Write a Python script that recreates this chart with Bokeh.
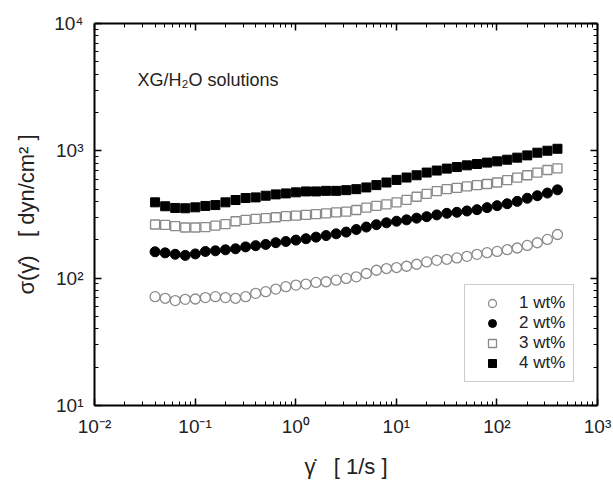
from bokeh.plotting import figure
from bokeh.models import Range1d, FixedTicker, LogAxis, Legend, LegendItem, Label
from bokeh.embed import file_html
from bokeh.resources import INLINE

# shear rate [1/s]
shear_rate = [0.0400, 0.0504, 0.0634, 0.0798, 0.1005, 0.1265, 0.1592, 0.2004, 0.2523, 0.3177,
              0.4000, 0.5036, 0.6340, 0.7981, 1.005, 1.265, 1.592, 2.004, 2.523, 3.177,
              4.000, 5.036, 6.340, 7.981, 10.05, 12.65, 15.92, 20.04, 25.23, 31.77,
              40.00, 50.36, 63.40, 79.81, 100.5, 126.5, 159.2, 200.4, 252.3, 317.7, 400.0]

# shear stress [dyn/cm^2]
wt1 = [71.6, 69.5, 66.7, 68.2, 68.6, 70.4, 71.6, 70.4, 69.5, 71.6,
       76.0, 78.3, 82.1, 85.7, 88.2, 89.8, 92.6, 93.7, 96.5, 99.5,
       102.5, 108.8, 115.4, 119.0, 121.2, 124.0, 128.6, 134.2, 138.1, 140.7,
       144.2, 148.4, 153.8, 158.6, 162.3, 167.3, 172.6, 180.8, 189.8, 201.4, 220.3]
wt2 = [161, 158, 154, 151, 155, 162, 164, 167, 170, 176,
       180, 184, 190, 194, 199, 204, 210, 216, 223, 230,
       241, 252, 263, 272, 280, 287, 296, 304, 314, 323,
       329, 337, 345, 358, 371, 384, 401, 424, 444, 466, 494]
wt3 = [264, 262, 256, 250, 250, 252, 259, 266, 280, 287,
       292, 296, 301, 307, 310, 314, 318, 323, 329, 333,
       343, 358, 369, 380, 394, 412, 436, 460, 482, 500,
       512, 525, 538, 549, 564, 588, 617, 643, 675, 707, 729]
wt4 = [394, 367, 356, 354, 360, 369, 375, 394, 411, 426,
       431, 444, 455, 463, 472, 480, 480, 485, 485, 491,
       500, 516, 538, 564, 591, 617, 643, 675, 700, 725,
       746, 769, 788, 808, 827, 852, 884, 921, 967, 1002, 1038]

series_labels = ["1 wt%", "2 wt%", "3 wt%", "4 wt%"]

x_decades = [0.01, 0.1, 1, 10, 100, 1000]
x_tick_labels = ["10⁻²", "10⁻¹", "10⁰", "10¹", "10²", "10³"]
y_decades = [10, 100, 1000, 10000]
y_tick_labels = ["10¹", "10²", "10³", "10⁴"]

FONT = "Liberation Sans"
TXT = "#222222"
GRAY = "#8a8a8a"
NB = "\u00a0"

x_minor = [m * d for d in x_decades[:-1] for m in range(2, 10)]
y_minor = [m * d for d in y_decades[:-1] for m in range(2, 10)]

p = figure(width=613, height=481, x_axis_type="log", y_axis_type="log",
           x_range=Range1d(x_decades[0], x_decades[-1]),
           y_range=Range1d(y_decades[0], y_decades[-1]),
           output_backend="svg", toolbar_location=None,
           min_border_left=94, min_border_right=16, min_border_top=23, min_border_bottom=73)
p.outline_line_color = None
p.grid.visible = False
p.background_fill_color = "white"

def style_axis(ax, ticks, minor):
    ax.ticker = FixedTicker(ticks=ticks, minor_ticks=minor)
    ax.axis_line_width = 2
    ax.axis_line_color = "black"
    ax.major_tick_in = 7
    ax.major_tick_out = 0
    ax.minor_tick_in = 4
    ax.minor_tick_out = 0
    ax.major_tick_line_width = 1.5
    ax.minor_tick_line_width = 1
    ax.major_tick_line_color = "black"
    ax.minor_tick_line_color = "black"

xa = p.xaxis[0]
ya = p.yaxis[0]
style_axis(xa, x_decades, x_minor)
style_axis(ya, y_decades, y_minor)
xa.major_label_overrides = dict(zip(x_decades, x_tick_labels))
ya.major_label_overrides = dict(zip(y_decades, y_tick_labels))
for ax in (xa, ya):
    ax.major_label_text_font = FONT
    ax.major_label_text_font_size = "19px"
    ax.major_label_text_color = TXT
    ax.axis_label_text_font = FONT
    ax.axis_label_text_font_size = "22px"
    ax.axis_label_text_font_style = "normal"
    ax.axis_label_text_color = TXT
xa.major_label_standoff = 10
ya.major_label_standoff = 11
xa.axis_label = "γ̇" + NB + NB + " [ 1/s ]"
ya.axis_label = "σ(γ̇)" + NB + NB + NB + "[ dyn/cm² ]"
xa.axis_label_standoff = 14
ya.axis_label_standoff = 12

top = LogAxis()
right = LogAxis()
style_axis(top, x_decades, x_minor)
style_axis(right, y_decades, y_minor)
for ax in (top, right):
    ax.major_label_text_font_size = "0px"
    ax.major_label_standoff = 0
p.add_layout(top, "above")
p.add_layout(right, "right")
top.major_label_overrides = {t: "" for t in x_decades}
right.major_label_overrides = {t: "" for t in y_decades}

r1 = p.scatter(shear_rate, wt1, marker="circle", size=10, fill_color="white",
               line_color=GRAY, line_width=1.3)
r2 = p.scatter(shear_rate, wt2, marker="circle", size=10, fill_color="black",
               line_color="black", line_width=1)
r3 = p.scatter(shear_rate, wt3, marker="square", size=9, fill_color="white",
               line_color=GRAY, line_width=1.3)
r4 = p.scatter(shear_rate, wt4, marker="square", size=9, fill_color="black",
               line_color="black", line_width=1)

legend = Legend(items=[LegendItem(label=l, renderers=[r]) for l, r in zip(series_labels, [r1, r2, r3, r4])],
                location=(370, 23))
legend.padding = 8
legend.spacing = 0
legend.margin = 0
legend.label_height = 20
legend.glyph_height = 20
legend.glyph_width = 38
legend.label_standoff = 8
legend.label_text_font = FONT
legend.label_text_font_size = "17px"
legend.label_text_color = TXT
legend.border_line_color = "#999999"
legend.border_line_width = 1
legend.background_fill_color = "white"
legend.background_fill_alpha = 1
p.add_layout(legend)

p.add_layout(Label(x=0.0267, y=3600, text="XG/H₂O solutions", text_font=FONT,
                   text_font_size="18px", text_color=TXT, text_baseline="middle"))

open("out.html", "w").write(file_html(p, INLINE))
